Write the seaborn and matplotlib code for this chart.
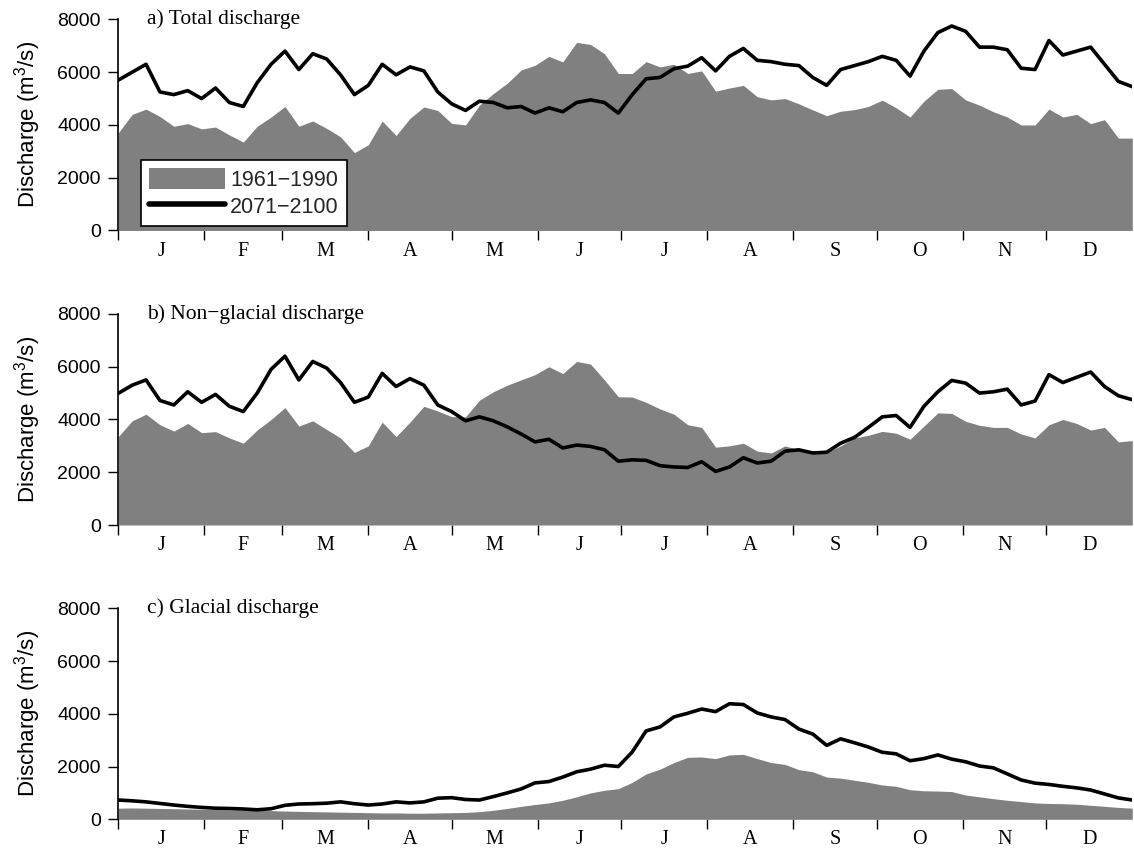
import matplotlib
matplotlib.use("Agg")
import matplotlib.pyplot as plt
from matplotlib.patches import Patch
from matplotlib.lines import Line2D
import seaborn as sns

# day of year, every 5 days
days = list(range(0, 366, 5))

month_starts = [0, 31, 59, 90, 120, 151, 181, 212, 243, 273, 304, 334]
month_labels = ['J', 'F', 'M', 'A', 'M', 'J', 'J', 'A', 'S', 'O', 'N', 'D']
y_ticks = [0, 2000, 4000, 6000, 8000]
legend_labels = ['1961\u22121990', '2071\u22122100']

# a) total discharge
total_past = [3700, 4400, 4600, 4320, 3950, 4050, 3850, 3920, 3620, 3350,
              3950, 4300, 4700, 3950, 4150, 3870, 3550, 2950, 3250, 4150,
              3600, 4250, 4680, 4550, 4060, 4000, 4750, 5190, 5580, 6080,
              6260, 6600, 6390, 7130, 7050, 6700, 5950, 5950, 6400, 6200,
              6300, 5950, 6050, 5280, 5400, 5500, 5070, 4950, 5000, 4800,
              4570, 4350, 4520, 4580, 4700, 4940, 4650, 4300, 4900, 5350,
              5380, 4950, 4750, 4500, 4300, 4000, 4000, 4600, 4300, 4400,
              4050, 4200, 3500, 3500]
total_future = [5700, 6000, 6300, 5250, 5150, 5300, 5000, 5400, 4850, 4700,
                5600, 6300, 6800, 6100, 6700, 6500, 5900, 5150, 5500, 6300,
                5900, 6200, 6050, 5250, 4800, 4550, 4900, 4850, 4650, 4700,
                4450, 4650, 4500, 4850, 4950, 4850, 4450, 5150, 5750, 5800,
                6130, 6230, 6550, 6050, 6600, 6900, 6450, 6400, 6300, 6250,
                5800, 5500, 6100, 6250, 6400, 6600, 6450, 5850, 6800, 7500,
                7750, 7550, 6950, 6950, 6850, 6150, 6100, 7200, 6650, 6800,
                6950, 6300, 5650, 5450]

# b) non-glacial discharge
nonglacial_past = [3350, 3950, 4200, 3800, 3560, 3850, 3500, 3540, 3300, 3100,
                   3600, 4000, 4450, 3750, 3950, 3620, 3300, 2750, 3000, 3900,
                   3350, 3900, 4500, 4320, 4110, 4100, 4730, 5050, 5300, 5500,
                   5700, 6000, 5740, 6200, 6100, 5500, 4860, 4850, 4650, 4400,
                   4200, 3800, 3700, 2950, 3000, 3100, 2800, 2730, 3000, 2850,
                   2790, 2750, 3000, 3300, 3400, 3550, 3480, 3250, 3750, 4250,
                   4230, 3930, 3780, 3700, 3700, 3450, 3300, 3800, 4000, 3850,
                   3600, 3700, 3150, 3200]
nonglacial_future = [4990, 5300, 5500, 4720, 4550, 5050, 4650, 4950, 4500, 4300,
                     5000, 5900, 6400, 5500, 6200, 5950, 5400, 4650, 4850, 5750,
                     5250, 5550, 5300, 4550, 4300, 3950, 4100, 3950, 3720, 3450,
                     3150, 3250, 2920, 3030, 2980, 2850, 2420, 2470, 2450, 2250,
                     2200, 2180, 2400, 2030, 2200, 2550, 2350, 2420, 2800, 2850,
                     2730, 2760, 3100, 3320, 3700, 4100, 4150, 3700, 4500, 5050,
                     5480, 5380, 5000, 5050, 5150, 4550, 4700, 5700, 5400, 5600,
                     5800, 5250, 4900, 4750]

# c) glacial discharge
glacial_past = [420, 430, 420, 410, 400, 390, 380, 370, 360, 350,
                340, 330, 310, 300, 290, 280, 270, 260, 250, 240,
                240, 230, 230, 240, 250, 260, 290, 340, 410, 490,
                560, 620, 720, 850, 1000, 1100, 1160, 1400, 1720, 1900,
                2150, 2350, 2360, 2300, 2440, 2460, 2300, 2150, 2080, 1880,
                1800, 1600, 1560, 1480, 1400, 1300, 1250, 1120, 1080, 1070,
                1050, 920, 850, 780, 720, 670, 620, 600, 590, 570,
                530, 490, 450, 420]
glacial_future = [730, 700, 660, 600, 540, 490, 450, 420, 410, 390,
                  360, 400, 530, 580, 590, 610, 660, 590, 540, 580,
                  660, 620, 660, 800, 820, 750, 730, 860, 1000, 1150,
                  1380, 1430, 1600, 1800, 1900, 2050, 2000, 2550, 3350, 3500,
                  3880, 4020, 4180, 4080, 4380, 4350, 4030, 3880, 3780, 3420,
                  3230, 2800, 3050, 2900, 2740, 2540, 2480, 2220, 2300, 2440,
                  2280, 2180, 2020, 1950, 1720, 1490, 1370, 1320, 1250, 1190,
                  1110, 960, 810, 730]

panels = [
    ('a) Total discharge', total_past, total_future),
    ('b) Non\u2212glacial discharge', nonglacial_past, nonglacial_future),
    ('c) Glacial discharge', glacial_past, glacial_future),
]

sns.set_theme(style='ticks')
plt.rcParams['font.family'] = ['Liberation Sans', 'DejaVu Sans']
plt.rcParams['mathtext.fontset'] = 'custom'
plt.rcParams['mathtext.rm'] = 'Liberation Sans'
plt.rcParams['mathtext.default'] = 'regular'

GRAY = '#808080'
serif = ['Liberation Serif', 'DejaVu Serif']

fig = plt.figure(figsize=(11.34, 8.52), dpi=100)
bottoms = [0.7295, 0.3838, 0.0384]
month_ends = month_starts[1:] + [365]
month_mid = [(s + e) / 2 for s, e in zip(month_starts, month_ends)]

for (title, past, future), bottom in zip(panels, bottoms):
    ax = fig.add_axes([0.1043, bottom, 0.8942, 0.2477])
    ax.fill_between(days, past, 0, color=GRAY, lw=0, zorder=1)
    sns.lineplot(x=days, y=future, ax=ax, color='black', lw=2.6, zorder=3)

    ax.set_xlim(0, 365)
    ax.set_ylim(0, 8000)
    ax.set_yticks(y_ticks)
    ax.set_yticklabels([str(v) for v in y_ticks], fontsize=14)
    ax.set_xticks(month_starts)
    ax.set_xticklabels([''] * len(month_starts))
    ax.set_xticks(month_mid, minor=True)
    ax.set_xticklabels(month_labels, minor=True, fontsize=14.5, family=serif)
    ax.tick_params(axis='x', which='major', length=7.5, width=1.0,
                   direction='out', color='black')
    ax.tick_params(axis='x', which='minor', length=0, pad=8, colors='black')
    ax.tick_params(axis='y', length=7.5, width=1.0, pad=5, colors='black')

    for side in ['top', 'right', 'bottom']:
        ax.spines[side].set_visible(False)
    ax.spines['left'].set_color('black')
    ax.spines['left'].set_linewidth(1.2)

    ax.set_xlabel('')
    ax.set_ylabel('Discharge (m$^3$/s)', fontsize=16, color='black')
    ax.yaxis.set_label_coords(-0.074, 0.5)
    ax.text(0.028, 1.0, title, transform=ax.transAxes, ha='left', va='center',
            fontsize=15.5, family=serif, color='black')

    if bottom == bottoms[0]:
        handles = [Patch(facecolor=GRAY, edgecolor='none'),
                   Line2D([0], [0], color='black', lw=4)]
        leg = ax.legend(handles, legend_labels, loc='lower left',
                        bbox_to_anchor=(0.022, 0.019), frameon=True,
                        fancybox=False, edgecolor='black', framealpha=1,
                        fontsize=15.5, handlelength=3.5, handleheight=1.1,
                        borderaxespad=0, borderpad=0.4, labelspacing=0.2,
                        handletextpad=0.25)
        leg.get_frame().set_linewidth(1.2)

fig.savefig('out.png', dpi=100)
